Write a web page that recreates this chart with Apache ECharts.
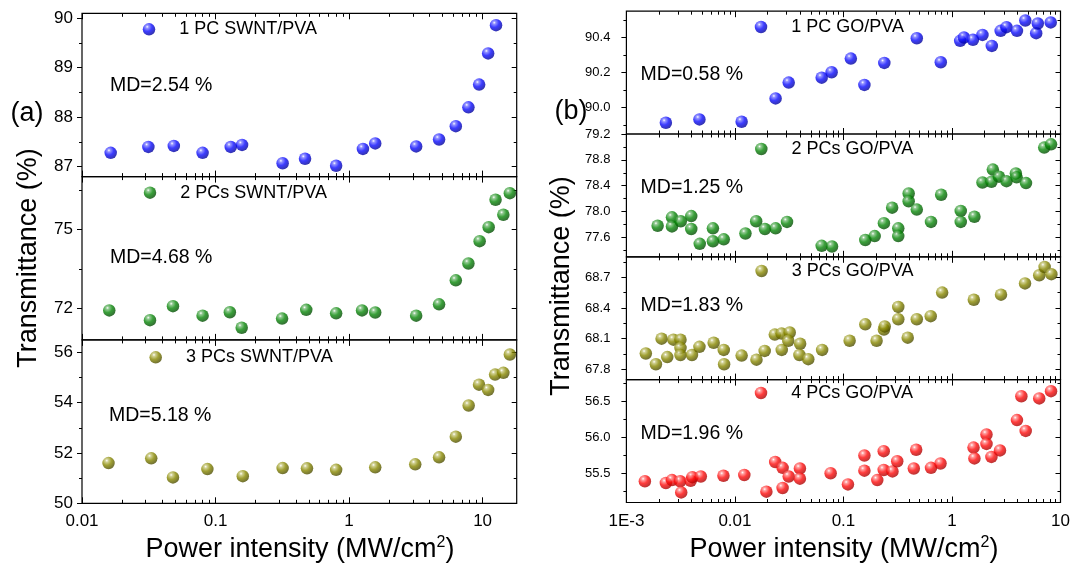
<!DOCTYPE html>
<html><head><meta charset="utf-8">
<script src="https://cdn.jsdelivr.net/npm/echarts@6/dist/echarts.min.js"></script>
<style>html,body{margin:0;padding:0;background:#fff}#c{width:1084px;height:566px}</style>
</head><body><div id="c"></div>
<script>
// ---------------- Panel (a): SWNT/PVA ----------------
const namesA = ['1 PC SWNT/PVA', '2 PCs SWNT/PVA', '3 PCs SWNT/PVA'];
const mdA = ['MD=2.54 %', 'MD=4.68 %', 'MD=5.18 %'];
const xA1 = [0.0164,0.0314,0.0487,0.080,0.130,0.158,0.318,0.468,0.80,1.27,1.57,3.18,4.72,6.30,7.83,9.42,11.0,12.6];
const yA1 = [87.28,87.40,87.42,87.28,87.40,87.44,87.07,87.16,87.02,87.36,87.47,87.41,87.55,87.82,88.20,88.66,89.29,89.86];
const xA2 = [0.016,0.0323,0.048,0.080,0.128,0.157,0.315,0.478,0.80,1.25,1.57,3.18,4.72,6.3,7.83,9.5,11.1,12.5,14.3,16.0];
const yA2 = [71.92,71.55,72.08,71.72,71.85,71.26,71.61,71.94,71.81,71.92,71.84,71.72,72.15,73.06,73.70,74.55,75.08,76.12,75.55,76.37];
const xA3 = [0.0158,0.033,0.048,0.0869,0.16,0.318,0.484,0.80,1.57,3.13,4.72,6.3,7.86,9.4,11.0,12.4,14.3,16.0];
const yA3 = [51.60,51.79,51.03,51.36,51.08,51.40,51.39,51.33,51.43,51.55,51.83,52.65,53.89,54.72,54.51,55.12,55.19,55.92];

// ---------------- Panel (b): GO/PVA ----------------
const namesB = ['1 PC GO/PVA', '2 PCs GO/PVA', '3 PCs GO/PVA', '4 PCs GO/PVA'];
const mdB = ['MD=0.58 %', 'MD=1.25 %', 'MD=1.83 %', 'MD=1.96 %'];
const xB1 = [0.00231,0.00471,0.01153,0.0237,0.0313,0.063,0.0778,0.117,0.156,0.238,0.474,0.789,1.19,1.29,1.56,1.91,2.33,2.81,3.18,3.97,4.74,5.97,6.18,8.13];
const yB1 = [89.914,89.933,89.92,90.053,90.143,90.171,90.202,90.28,90.13,90.255,90.396,90.259,90.381,90.40,90.387,90.415,90.352,90.438,90.459,90.438,90.497,90.425,90.48,90.486];
const xB2 = [0.00194,0.00263,0.00263,0.00317,0.00396,0.00396,0.00474,0.00627,0.00627,0.00789,0.0125,0.0157,0.0189,0.0237,0.0302,0.063,0.0785,0.159,0.194,0.236,0.281,0.320,0.320,0.399,0.399,0.474,0.641,0.795,1.205,1.205,1.61,1.91,2.31,2.38,2.71,3.18,3.88,3.94,4.81,7.08,8.18];
const yB2 = [77.78,77.91,77.77,77.85,77.93,77.73,77.50,77.74,77.54,77.57,77.66,77.85,77.73,77.74,77.84,77.47,77.46,77.56,77.62,77.82,78.06,77.74,77.62,78.28,78.16,78.03,77.84,78.26,78.01,77.84,77.92,78.45,78.46,78.65,78.54,78.47,78.59,78.53,78.44,78.99,79.04];
const xB3 = [0.00151,0.00187,0.00211,0.00238,0.00271,0.00315,0.00315,0.00315,0.00402,0.00471,0.00637,0.00789,0.00795,0.01153,0.0158,0.0188,0.0233,0.0269,0.032,0.031,0.027,0.0399,0.0393,0.0474,0.0636,0.114,0.159,0.202,0.236,0.24,0.320,0.320,0.391,0.474,0.637,0.812,1.59,2.83,4.71,6.37,7.14,8.24];
const yB3 = [67.955,67.85,68.10,67.92,68.09,68.09,68.01,67.94,67.94,68.02,68.06,67.99,67.85,67.935,67.895,67.98,68.14,68.15,68.16,68.08,67.99,68.05,67.94,67.90,67.99,68.08,68.24,68.08,68.19,68.22,68.29,68.41,68.11,68.29,68.32,68.55,68.48,68.53,68.64,68.72,68.80,68.73];
const xB4 = [0.00148,0.00231,0.00263,0.00313,0.0032,0.00391,0.00405,0.00485,0.00784,0.0122,0.0195,0.0235,0.0275,0.0275,0.0313,0.0397,0.0397,0.0762,0.110,0.156,0.156,0.235,0.205,0.235,0.283,0.313,0.445,0.468,0.641,0.784,1.58,1.61,2.08,2.08,2.31,2.77,3.97,4.36,4.78,6.37,8.18];
const yB4 = [55.394,55.37,55.41,55.394,55.24,55.40,55.45,55.46,55.47,55.48,55.25,55.66,55.58,55.30,55.46,55.57,55.43,55.505,55.35,55.75,55.54,55.81,55.41,55.55,55.53,55.67,55.57,55.83,55.58,55.64,55.86,55.71,56.04,55.91,55.73,55.82,56.24,56.57,56.09,56.54,56.64];

// ---------------- Tick values / labels ----------------
const xTicksA = [0.01, 0.1, 1, 10];
const xTickLabelsA = ['0.01', '0.1', '1', '10'];
const xTicksB = [0.001, 0.01, 0.1, 1, 10];
const xTickLabelsB = ['1E-3', '0.01', '0.1', '1', '10'];
const yTicksA1 = [87, 88, 89, 90],        yLabelsA1 = ['87','88','89','90'],            yMinorA1 = [87.5, 88.5, 89.5];
const yTicksA2 = [72, 75],                yLabelsA2 = ['72','75'],                      yMinorA2 = [73.5, 76.5];
const yTicksA3 = [50, 52, 54, 56],        yLabelsA3 = ['50','52','54','56'],            yMinorA3 = [51, 53, 55];
const yTicksB1 = [90.0, 90.2, 90.4],      yLabelsB1 = ['90.0','90.2','90.4'],           yMinorB1 = [89.9, 90.1, 90.3, 90.5];
const yTicksB2 = [77.6, 78.0, 78.4, 78.8, 79.2], yLabelsB2 = ['77.6','78.0','78.4','78.8','79.2'], yMinorB2 = [77.4, 77.8, 78.2, 78.6, 79.0];
const yTicksB3 = [67.8, 68.1, 68.4, 68.7], yLabelsB3 = ['67.8','68.1','68.4','68.7'],   yMinorB3 = [67.95, 68.25, 68.55, 68.85];
const yTicksB4 = [55.5, 56.0, 56.5],      yLabelsB4 = ['55.5','56.0','56.5'],           yMinorB4 = [55.25, 55.75, 56.25, 56.75];

// ---------------- Layout / style ----------------
const FONT = '"Liberation Sans", Arial, Helvetica, sans-serif';
function minorLog(min, max) {
  const out = [];
  for (let e = Math.floor(Math.log10(min)); e <= Math.ceil(Math.log10(max)); e++) {
    for (let k = 2; k <= 9; k++) { const v = k * Math.pow(10, e); if (v > min && v < max) out.push(v); }
  }
  return out;
}
const panels = {
  a: { left: 82, width: 434.7, xMin: 0.01, xMax: 18, xMaj: xTicksA, xLab: xTickLabelsA, ySize: 17, yMargin: 9 },
  b: { left: 626.4, width: 434.1, xMin: 0.001, xMax: 10, xMaj: xTicksB, xLab: xTickLabelsB, ySize: 13, yMargin: 16 }
};
function ball(light, base, dark) {
  return { type: 'radial', x: 0.36, y: 0.3, r: 0.75, colorStops: [
    { offset: 0, color: '#ffffff' }, { offset: 0.16, color: light },
    { offset: 0.5, color: base }, { offset: 1, color: dark } ] };
}
const BLUE = ball('#7a7aff', '#0c0cff', '#000090');
const GREEN = ball('#7abd7a', '#088808', '#004400');
const OLIVE = ball('#c6c67a', '#888800', '#464600');
const RED = ball('#ff8a8a', '#ff0c0c', '#a00000');

const grids = [
  { p: 'a', top: 13.3,  height: 163.3, yMin: 86.8,  yMax: 90.1,  yMaj: yTicksA1, yLab: yLabelsA1, yMinor: yMinorA1, xs: xA1, ys: yA1, name: namesA[0], md: mdA[0], color: BLUE,  lg: [149, 29.3],  mdPos: [110, 86],  bottom: false },
  { p: 'a', top: 176.6, height: 163.3, yMin: 70.8,  yMax: 77.0,  yMaj: yTicksA2, yLab: yLabelsA2, yMinor: yMinorA2, xs: xA2, ys: yA2, name: namesA[1], md: mdA[1], color: GREEN, lg: [150, 192.7], mdPos: [110, 258], bottom: false },
  { p: 'a', top: 339.9, height: 163.4, yMin: 50,    yMax: 56.5,  yMaj: yTicksA3, yLab: yLabelsA3, yMinor: yMinorA3, xs: xA3, ys: yA3, name: namesA[2], md: mdA[2], color: OLIVE, lg: [155.7, 357.3], mdPos: [109, 416], bottom: true },
  { p: 'b', top: 11.2,  height: 122.8, yMin: 89.85, yMax: 90.55, yMaj: yTicksB1, yLab: yLabelsB1, yMinor: yMinorB1, xs: xB1, ys: yB1, name: namesB[0], md: mdB[0], color: BLUE,  lg: [761, 27],   mdPos: [640.6, 74.4], bottom: false },
  { p: 'b', top: 134.0, height: 122.8, yMin: 77.3,  yMax: 79.2,  yMaj: yTicksB2, yLab: yLabelsB2, yMinor: yMinorB2, xs: xB2, ys: yB2, name: namesB[1], md: mdB[1], color: GREEN, lg: [761.3, 149], mdPos: [640.6, 187.5], bottom: false },
  { p: 'b', top: 256.8, height: 122.8, yMin: 67.7,  yMax: 68.9,  yMaj: yTicksB3, yLab: yLabelsB3, yMinor: yMinorB3, xs: xB3, ys: yB3, name: namesB[2], md: mdB[2], color: OLIVE, lg: [761.6, 271], mdPos: [640.6, 305.8], bottom: false },
  { p: 'b', top: 379.6, height: 122.9, yMin: 55.1,  yMax: 56.8,  yMaj: yTicksB4, yLab: yLabelsB4, yMinor: yMinorB4, xs: xB4, ys: yB4, name: namesB[3], md: mdB[3], color: RED,   lg: [761, 393],  mdPos: [640.6, 433.6], bottom: true }
];

const tickLine = { color: '#000', width: 1 };
function lookup(vals, labs, v) {
  for (let i = 0; i < vals.length; i++) if (Math.abs(vals[i] - v) < 1e-6) return labs[i];
  return '';
}

const option = {
  animation: false, backgroundColor: '#fff',
  grid: [], xAxis: [], yAxis: [], series: [], legend: [], graphic: []
};

grids.forEach((g, gi) => {
  const P = panels[g.p];
  option.grid.push({ left: P.left, width: P.width, top: g.top, height: g.height, show: true,
    borderColor: '#000', borderWidth: 1.2, backgroundColor: 'transparent', containLabel: false });
  // data axis (log scale)
  const dataX = option.xAxis.length;
  option.xAxis.push({ type: 'log', logBase: 10, gridIndex: gi, min: P.xMin, max: P.xMax, show: false, position: 'bottom',
    axisLine: { onZero: false } });
  // tick axes in log space (major / minor, bottom / top)
  const lmin = Math.log10(P.xMin), lmax = Math.log10(P.xMax);
  const majL = P.xMaj.map(Math.log10), minL = minorLog(P.xMin, P.xMax).map(Math.log10);
  ['bottom', 'top'].forEach(pos => {
    [false, true].forEach(isMinor => {
      const vals = isMinor ? minL : majL;
      option.xAxis.push({ type: 'value', gridIndex: gi, position: pos, min: lmin, max: lmax,
        axisLine: { show: false, onZero: false }, splitLine: { show: false },
        axisTick: { show: true, inside: true, length: isMinor ? 3.5 : 6, customValues: vals, lineStyle: tickLine },
        axisLabel: { show: g.bottom && pos === 'bottom' && !isMinor, customValues: vals, margin: 10,
          fontSize: 17, fontFamily: FONT, color: '#000',
          formatter: v => lookup(majL, P.xLab, v) } });
    });
  });
  // y axes
  const dataY = option.yAxis.length;
  ['left', 'right'].forEach(pos => {
    [false, true].forEach(isMinor => {
      const vals = isMinor ? g.yMinor : g.yMaj;
      option.yAxis.push({ type: 'value', gridIndex: gi, position: pos, min: g.yMin, max: g.yMax,
        axisLine: { show: false, onZero: false }, splitLine: { show: false },
        axisTick: { show: true, inside: pos === 'right', length: isMinor ? 3 : 5, customValues: vals, lineStyle: tickLine },
        axisLabel: { show: pos === 'left' && !isMinor, customValues: vals, margin: P.yMargin,
          fontSize: P.ySize, fontFamily: FONT, color: '#000',
          formatter: v => lookup(g.yMaj, g.yLab, v) } });
    });
  });
  option.series.push({ type: 'scatter', name: g.name, xAxisIndex: dataX, yAxisIndex: dataY,
    symbol: 'circle', symbolSize: 12.5, itemStyle: { color: g.color }, emphasis: { disabled: true },
    data: g.xs.map((x, i) => [x, g.ys[i]]) });
  option.legend.push({ data: [g.name], left: g.lg[0] - 6.25, top: g.lg[1] - 9, padding: 0,
    itemWidth: 12.5, itemHeight: 12.5, icon: 'circle', selectedMode: false,
    textStyle: { fontSize: 18, fontFamily: FONT, color: '#000', padding: [0, 0, 0, 19] } });
  option.graphic.push({ type: 'text', x: g.mdPos[0], y: g.mdPos[1],
    style: { text: g.md, fontSize: 19.5, fontFamily: FONT, fill: '#000', align: 'left', verticalAlign: 'middle' } });
});

// titles and panel letters
const yTitle = 'Transmittance (%)';
const xRich = '{a|Power intensity (MW/cm}{s|2}{a|)}';
const richStyle = { a: { fontSize: 27, fontFamily: FONT, fill: '#000', lineHeight: 30 },
                    s: { fontSize: 16, fontFamily: FONT, fill: '#000', verticalAlign: 'top', lineHeight: 16 } };
option.graphic.push(
  { type: 'text', x: 29, y: 258, rotation: Math.PI / 2,
    style: { text: yTitle, fontSize: 27, fontFamily: FONT, fill: '#000', align: 'center', verticalAlign: 'middle' } },
  { type: 'text', x: 562, y: 286, rotation: Math.PI / 2,
    style: { text: yTitle, fontSize: 27, fontFamily: FONT, fill: '#000', align: 'center', verticalAlign: 'middle' } },
  { type: 'text', x: 300, y: 550,
    style: { text: xRich, rich: richStyle, align: 'center', verticalAlign: 'middle' } },
  { type: 'text', x: 844, y: 550,
    style: { text: xRich, rich: richStyle, align: 'center', verticalAlign: 'middle' } },
  { type: 'text', x: 27, y: 114,
    style: { text: '(a)', fontSize: 27, fontFamily: FONT, fill: '#000', align: 'center', verticalAlign: 'middle' } },
  { type: 'text', x: 571, y: 112,
    style: { text: '(b)', fontSize: 27, fontFamily: FONT, fill: '#000', align: 'center', verticalAlign: 'middle' } }
);

const chart = echarts.init(document.getElementById('c'), null, { renderer: 'canvas' });
chart.setOption(option);
</script>
</body></html>
